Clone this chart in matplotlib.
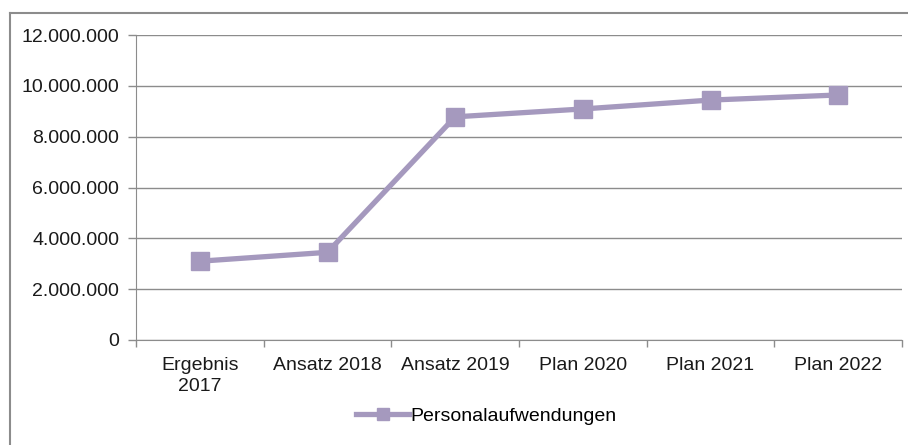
import matplotlib.pyplot as plt
from matplotlib.lines import Line2D
from matplotlib.ticker import FuncFormatter, MultipleLocator

plt.rcParams['font.family'] = ['Liberation Sans', 'DejaVu Sans']

kategorien = ['Ergebnis\n2017', 'Ansatz 2018', 'Ansatz 2019', 'Plan 2020', 'Plan 2021', 'Plan 2022']
personal = [3100000, 3450000, 8780000, 9090000, 9440000, 9640000]

farbe = '#A599BE'
grau = '#8C8C8C'
schrift = 14

fig = plt.figure(figsize=(9.08, 4.45), dpi=100)
ax = fig.add_axes([136 / 908, 1 - 340 / 445, 766 / 908, 305 / 445])

x = list(range(len(kategorien)))
ax.plot(x, personal, color=farbe, linewidth=3.8, marker='s', markersize=13,
        markeredgecolor=farbe, label='Personalaufwendungen', zorder=3)

ax.set_xlim(-0.5, len(kategorien) - 0.5)
ax.set_ylim(0, 12000000)
ax.yaxis.set_major_locator(MultipleLocator(2000000))
ax.yaxis.set_major_formatter(FuncFormatter(lambda v, p: f'{int(v):,}'.replace(',', '.')))

ax.set_xticks(x)
ax.set_xticklabels(kategorien, linespacing=1.3)
ax.set_xticks([i - 0.5 for i in range(len(kategorien) + 1)], minor=True)
ax.tick_params(axis='x', which='major', length=0, pad=12, labelsize=schrift, colors='#1a1a1a')
ax.tick_params(axis='x', which='minor', length=5, color=grau, width=1)
ax.tick_params(axis='y', length=6, color=grau, width=1, labelsize=schrift, colors='#1a1a1a', pad=6)

ax.grid(axis='y', color=grau, linewidth=1)
ax.set_axisbelow(True)
for s in ['top', 'right']:
    ax.spines[s].set_visible(False)
ax.spines['left'].set_color(grau)
ax.spines['bottom'].set_color(grau)

fig.legend(handles=[Line2D([0], [0], color=farbe, linewidth=3.8, marker='s', markersize=9)],
           labels=['Personalaufwendungen'], loc='center', bbox_to_anchor=(0.536, 1 - 416 / 445),
           frameon=False, fontsize=schrift, handlelength=2.7, handletextpad=0.1)

# Rahmen oben und links
fig.add_artist(Line2D([10 / 908, 1], [1 - 13 / 445, 1 - 13 / 445], transform=fig.transFigure, color=grau, linewidth=1.5))
fig.add_artist(Line2D([10 / 908, 10 / 908], [0, 1 - 13 / 445], transform=fig.transFigure, color=grau, linewidth=1.5))

fig.savefig('out.png', dpi=100)
